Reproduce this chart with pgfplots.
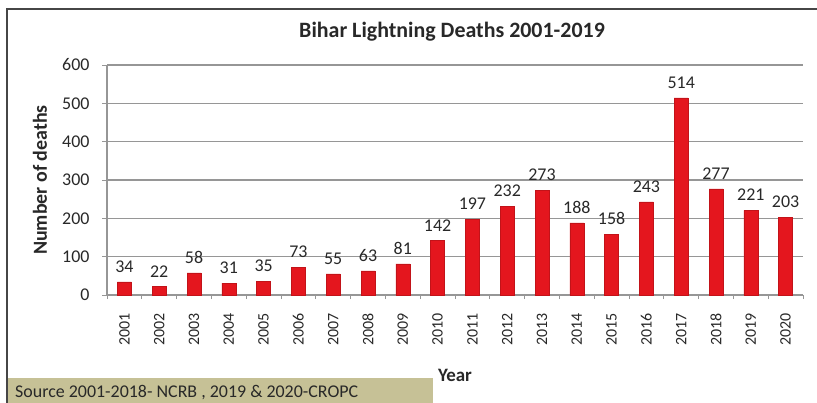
\documentclass[border=0pt]{standalone}
\usepackage{pgfplots}
\pgfplotsset{compat=1.18}
\usepackage{fontspec}
\setmainfont{Carlito}
\definecolor{barred}{RGB}{228,22,30}
\definecolor{gridgray}{RGB}{150,150,150}
\definecolor{framegray}{RGB}{70,70,70}
\definecolor{srcbox}{RGB}{198,193,150}
\definecolor{txt}{RGB}{40,40,40}

\begin{document}
\begin{tikzpicture}[x=1bp,y=1bp]
\clip (0,0) rectangle (817,402);
\path[use as bounding box] (0,0) rectangle (817,402);
% outer frame (left and top edges)
\draw[framegray, line width=2bp] (7,-5) -- (7,393) -- (830,393);
\begin{axis}[
  at={(107bp,107bp)}, anchor=south west,
  scale only axis, width=696bp, height=230bp,
  xmin=-0.5, xmax=19.5, ymin=0, ymax=600,
  ytick={0,100,...,600},
  xtick={0,...,19},
  xticklabels={2001,2002,2003,2004,2005,2006,2007,2008,2009,2010,
               2011,2012,2013,2014,2015,2016,2017,2018,2019,2020},
  minor xtick={-0.5,0.5,...,19.5},
  every major x tick/.append style={draw=none},
  tick align=outside,
  major tick length=5bp, minor tick length=4bp,
  tick style={gridgray, line width=1bp},
  axis x line*=bottom, axis y line*=left,
  axis line style={gridgray, line width=1.2bp},
  ymajorgrids, grid style={gridgray, line width=1.2bp},
  xticklabel shift=10bp,
  x tick label style={rotate=90, anchor=east, text=txt,
    font=\fontsize{16}{16}\selectfont},
  y tick label style={text=txt, font=\fontsize{18}{18}\selectfont, xshift=-9bp},
  /pgf/number format/assume math mode=true,
  ybar, bar width=14bp,
  nodes near coords,
  nodes near coords style={text=txt, font=\fontsize{18}{18}\selectfont, yshift=6bp},
  clip=false,
]
\addplot[fill=barred, draw=barred!85!black] coordinates {
  (0,34) (1,22) (2,58) (3,31) (4,35) (5,73) (6,55) (7,63) (8,81) (9,142)
  (10,197) (11,232) (12,273) (13,188) (14,158) (15,243) (16,514) (17,277)
  (18,221) (19,203)};
\end{axis}
% title and axis titles
\node[font=\bfseries\fontsize{22}{22}\selectfont, text=txt] at (452,370) {Bihar Lightning Deaths 2001-2019};
\node[font=\bfseries\fontsize{20}{20}\selectfont, text=txt, rotate=90] at (40,222) {Number of deaths};
\node[font=\bfseries\fontsize{19}{19}\selectfont, text=txt] at (455,27) {Year};
% source note
\fill[srcbox] (8,-5) rectangle (433,24);
\node[anchor=base west, inner sep=0, font=\fontsize{18}{18}\selectfont, text=txt] at (15,4.5) {Source 2001-2018- NCRB , 2019 \& 2020-CROPC};
\end{tikzpicture}
\end{document}
